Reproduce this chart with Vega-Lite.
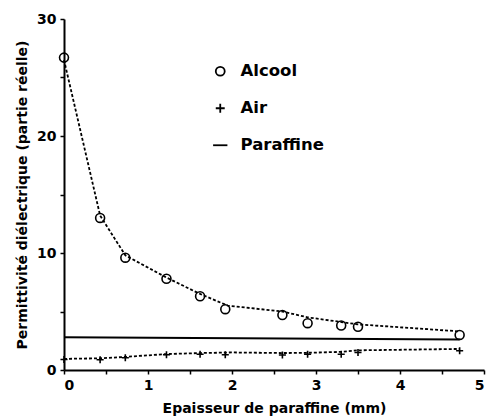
{
  "$schema": "https://vega.github.io/schema/vega-lite/v6.json",
  "autosize": {"type": "none"},
  "padding": {"left": 64, "top": 19, "right": 4, "bottom": 49},
  "width": 420,
  "height": 351,
  "background": "white",
  "config": {
    "view": {"stroke": null},
    "font": "DejaVu Sans",
    "axis": {
      "grid": false,
      "domainColor": "black",
      "domainWidth": 2,
      "tickColor": "black",
      "tickWidth": 1.5,
      "tickSize": 4,
      "labelFont": "DejaVu Sans",
      "labelFontWeight": "bold",
      "labelFontSize": 14,
      "labelColor": "black",
      "titleFont": "DejaVu Sans",
      "titleFontWeight": "bold",
      "titleFontSize": 14,
      "titleColor": "black"
    }
  },
  "datasets": {
    "alcool": [
      {"x": 0, "y": 26.7, "series": "Alcool"},
      {"x": 0.43, "y": 13.0, "series": "Alcool"},
      {"x": 0.73, "y": 9.6, "series": "Alcool"},
      {"x": 1.22, "y": 7.8, "series": "Alcool"},
      {"x": 1.62, "y": 6.3, "series": "Alcool"},
      {"x": 1.92, "y": 5.2, "series": "Alcool"},
      {"x": 2.6, "y": 4.7, "series": "Alcool"},
      {"x": 2.9, "y": 4.0, "series": "Alcool"},
      {"x": 3.3, "y": 3.8, "series": "Alcool"},
      {"x": 3.5, "y": 3.7, "series": "Alcool"},
      {"x": 4.71, "y": 3.0, "series": "Alcool"}
    ],
    "alcoolFit": [
      {"x": 0, "y": 26.5},
      {"x": 0.43, "y": 13.2},
      {"x": 0.73, "y": 9.8},
      {"x": 1.22, "y": 7.9},
      {"x": 1.62, "y": 6.5},
      {"x": 1.95, "y": 5.5},
      {"x": 2.6, "y": 5.0},
      {"x": 2.9, "y": 4.5},
      {"x": 3.3, "y": 4.1},
      {"x": 3.5, "y": 3.9},
      {"x": 4.71, "y": 3.3}
    ],
    "air": [
      {"x": 0, "y": 0.9, "series": "Air"},
      {"x": 0.43, "y": 0.88, "series": "Air"},
      {"x": 0.73, "y": 1.05, "series": "Air"},
      {"x": 1.22, "y": 1.3, "series": "Air"},
      {"x": 1.62, "y": 1.35, "series": "Air"},
      {"x": 1.92, "y": 1.3, "series": "Air"},
      {"x": 2.6, "y": 1.28, "series": "Air"},
      {"x": 2.9, "y": 1.35, "series": "Air"},
      {"x": 3.3, "y": 1.35, "series": "Air"},
      {"x": 3.5, "y": 1.5, "series": "Air"},
      {"x": 4.71, "y": 1.65, "series": "Air"}
    ],
    "airFit": [
      {"x": 0, "y": 0.95},
      {"x": 0.43, "y": 1.0},
      {"x": 0.73, "y": 1.12},
      {"x": 1.22, "y": 1.36},
      {"x": 1.62, "y": 1.45},
      {"x": 2.0, "y": 1.5},
      {"x": 2.6, "y": 1.45},
      {"x": 2.9, "y": 1.47},
      {"x": 3.3, "y": 1.55},
      {"x": 3.5, "y": 1.68},
      {"x": 4.71, "y": 1.8}
    ],
    "paraffine": [
      {"x": 0, "y": 2.8},
      {"x": 4.71, "y": 2.6}
    ]
  },
  "layer": [
    {
      "data": {"name": "alcoolFit"},
      "mark": {"type": "line", "color": "black", "strokeWidth": 1.8, "strokeDash": [3, 2]},
      "encoding": {
        "x": {"field": "x", "type": "quantitative", "scale": {"domain": [0, 5], "nice": false},
          "axis": {"title": "Epaisseur de paraffine (mm)", "values": [0, 0.5, 1, 1.5, 2, 2.5, 3, 3.5, 4, 4.5, 5],
            "labelExpr": "datum.value % 1 === 0 ? format(datum.value, 'd') : ''", "labelPadding": 4, "titlePadding": 9}},
        "y": {"field": "y", "type": "quantitative", "scale": {"domain": [0, 30], "nice": false},
          "axis": {"title": "Permittivité diélectrique (partie réelle)", "titleFontSize": 14,
            "values": [0, 5, 10, 15, 20, 25, 30],
            "labelExpr": "datum.value % 10 === 0 ? format(datum.value, 'd') : ''", "labelPadding": 4, "titlePadding": 7}}
      }
    },
    {
      "data": {"name": "airFit"},
      "mark": {"type": "line", "color": "black", "strokeWidth": 1.8, "strokeDash": [3, 2]},
      "encoding": {
        "x": {"field": "x", "type": "quantitative"},
        "y": {"field": "y", "type": "quantitative"}
      }
    },
    {
      "data": {"name": "paraffine"},
      "mark": {"type": "line", "color": "black", "strokeWidth": 2},
      "encoding": {
        "x": {"field": "x", "type": "quantitative"},
        "y": {"field": "y", "type": "quantitative"}
      }
    },
    {
      "data": {"name": "alcool"},
      "mark": {"type": "point", "filled": false, "color": "black", "strokeWidth": 1.6, "size": 80, "opacity": 1},
      "encoding": {
        "x": {"field": "x", "type": "quantitative"},
        "y": {"field": "y", "type": "quantitative"},
        "shape": {"field": "series", "type": "nominal",
          "scale": {"domain": ["Alcool", "Air", "Paraffine"], "range": ["circle", "M-1,0H1M0,-1V1", "M-1.6,0H1.6"]},
          "legend": {"title": null, "orient": "none", "legendX": 148, "legendY": 44,
            "values": ["Alcool", "Air", "Paraffine"],
            "labelFont": "DejaVu Sans", "labelFontWeight": "bold", "labelFontSize": 16.5, "labelColor": "black",
            "labelOffset": 12, "rowPadding": 20, "symbolSize": 80, "symbolStrokeWidth": 1.8,
            "symbolStrokeColor": "black", "symbolOpacity": 1,
            "encode": {"symbols": {"update": {"stroke": {"value": "black"}, "strokeWidth": {"value": 1.8}, "fill": {"value": "transparent"}, "opacity": {"value": 1}}}}}}
      }
    },
    {
      "data": {"name": "air"},
      "mark": {"type": "point", "filled": false, "color": "black", "strokeWidth": 1.6, "size": 50, "opacity": 1},
      "encoding": {
        "x": {"field": "x", "type": "quantitative"},
        "y": {"field": "y", "type": "quantitative"},
        "shape": {"field": "series", "type": "nominal"}
      }
    }
  ]
}
